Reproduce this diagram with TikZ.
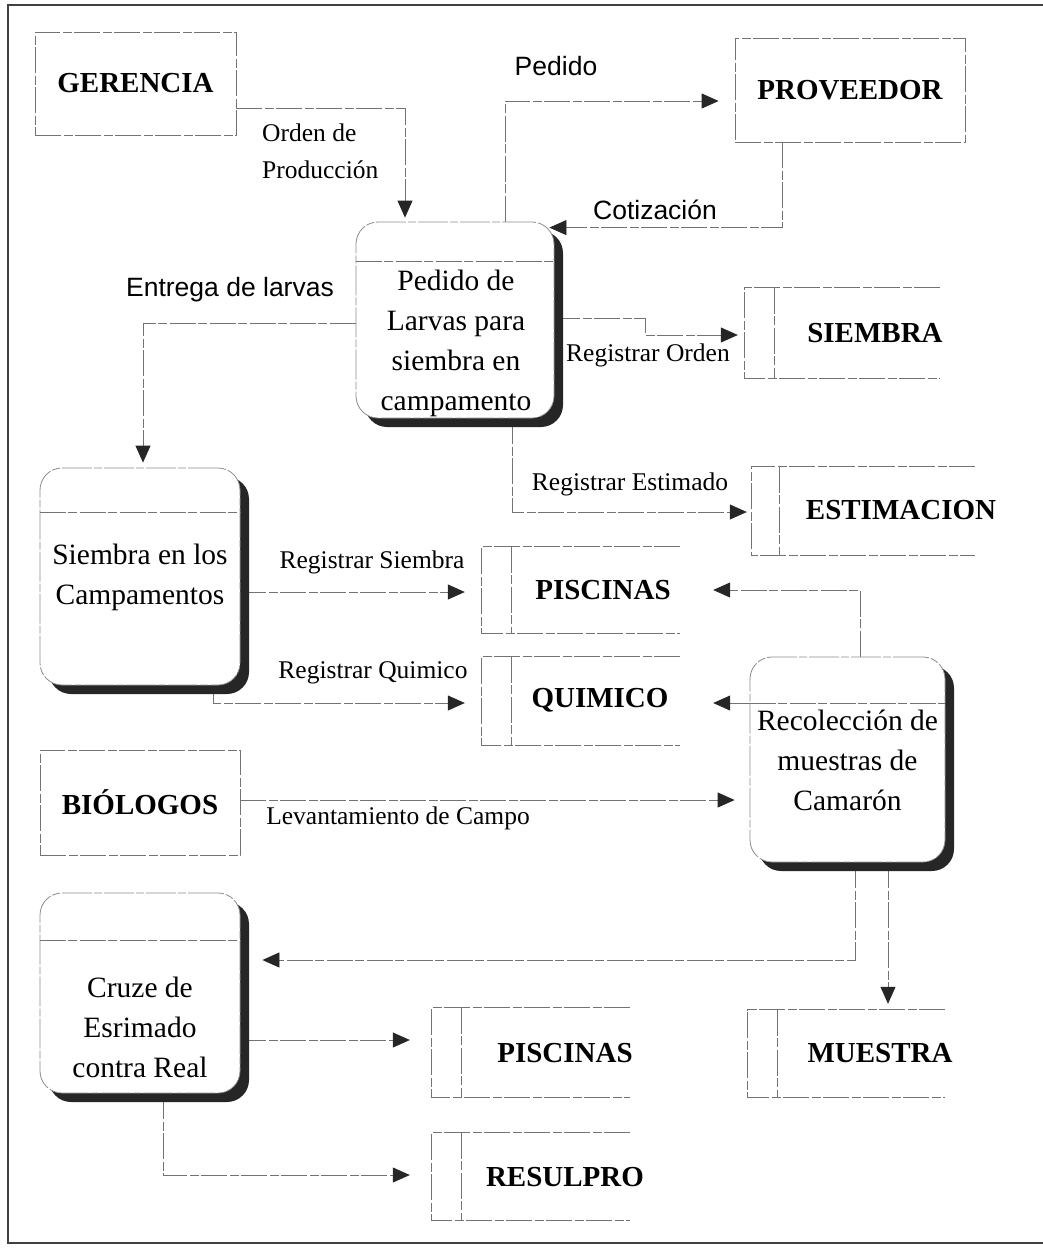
\documentclass[tikz,border=0pt]{standalone}
\usepackage{fontspec}
\setmainfont{Liberation Serif}
\newfontfamily\flowsans{Liberation Sans}
\usetikzlibrary{arrows.meta,calc,shadows}
\pgfdeclarelayer{wires}
\pgfsetlayers{wires,main}

\tikzset{
  edge/.style={draw=black!55, line width=0.8pt,
    dash pattern=on 26pt off 2.5pt on 9pt off 2.5pt},
  flow/.style={edge, -{Triangle[length=17pt,width=15pt,color=black!85]}},
  entity/.style={edge, fill=white, inner sep=0pt,
    font=\fontsize{29}{34}\selectfont\bfseries},
  proc/.style={draw=black!45, line width=0.8pt, rounded corners=22pt,
    fill=white, inner sep=0pt,
    dash pattern=on 30pt off 2pt on 8pt off 2pt,
    drop shadow={shadow xshift=9pt, shadow yshift=-9pt, opacity=1,
      fill=black!85, draw=none}},
  storeframe/.style={inner sep=0pt},
  storetext/.style={inner sep=0pt, font=\fontsize{29}{34}\selectfont\bfseries},
  ptext/.style={inner sep=0pt, align=center, font=\fontsize{29.5}{40}\selectfont},
  slabel/.style={inner sep=0pt, font=\fontsize{25.5}{37}\selectfont},
  sanslabel/.style={inner sep=0pt, font=\flowsans\fontsize{26.5}{32}\selectfont},
}

\newcommand{\openstore}[2]{%
  \draw[edge] (#1.north east) -- (#1.north west) -- (#1.south west) -- (#1.south east);
  \draw[edge] ($(#1.north west)+(#2,0)$) -- ($(#1.south west)+(#2,0)$);}

\begin{document}
\begin{tikzpicture}[x=1pt,y=-1pt]
\useasboundingbox (0,0) rectangle (1043,1248);

% page frame
\draw[line width=1.6pt, black!75] (1043,5) -- (8,5) -- (8,1243) -- (1043,1243);

% external entities
\node[entity, minimum width=201pt, minimum height=103pt] (ger) at (135.5,83.5) {GERENCIA};
\node[entity, minimum width=230pt, minimum height=104pt] (prov) at (850,90) {PROVEEDOR};
\node[entity, minimum width=200pt, minimum height=105pt] (bio) at (140,802.5) {BIÓLOGOS};

% processes
\node[proc, minimum width=198pt, minimum height=196pt] (p1) at (455,320) {};
\draw[edge] (p1.west |- 0,261) -- (p1.east |- 0,261);
\node[ptext] (p1t) at (456,343) {Pedido de\\Larvas para\\siembra en\\campamento};

\node[proc, minimum width=200pt, minimum height=217pt] (p2) at (140,576.5) {};
\draw[edge] (p2.west |- 0,512) -- (p2.east |- 0,512);
\node[ptext] (p2t) at (140,577) {Siembra en los\\Campamentos};

\node[proc, minimum width=195pt, minimum height=205pt] (p3) at (847.5,759.5) {};
\draw[edge] (p3.west |- 0,703) -- (p3.east |- 0,703);
\node[ptext] (p3t) at (847.5,760) {Recolección de\\muestras de\\Camarón};

\node[proc, minimum width=200pt, minimum height=200pt] (p4) at (140,993) {};
\draw[edge] (p4.west |- 0,940) -- (p4.east |- 0,940);
\node[ptext] (p4t) at (140,1027) {Cruze de\\Esrimado\\contra Real};

% data stores
\node[storeframe, minimum width=195pt, minimum height=90pt] (sie) at (842.5,333) {};
\openstore{sie}{30}
\node[storetext] (siet) at (875,333) {SIEMBRA};

\node[storeframe, minimum width=223pt, minimum height=88pt] (est) at (863.5,511) {};
\openstore{est}{28}
\node[storetext] (estt) at (901,510) {ESTIMACION};

\node[storeframe, minimum width=198pt, minimum height=86pt] (pis1) at (581,590) {};
\openstore{pis1}{30}
\node[storetext] (pis1t) at (603,590) {PISCINAS};

\node[storeframe, minimum width=198pt, minimum height=88pt] (qui) at (581,701) {};
\openstore{qui}{30}
\node[storetext] (quit) at (600,700) {QUIMICO};

\node[storeframe, minimum width=197pt, minimum height=87pt] (mue) at (846.5,1053.5) {};
\openstore{mue}{30}
\node[storetext] (muet) at (880,1053) {MUESTRA};

\node[storeframe, minimum width=198pt, minimum height=89pt] (pis2) at (531,1052.5) {};
\openstore{pis2}{30}
\node[storetext] (pis2t) at (565,1053) {PISCINAS};

\node[storeframe, minimum width=198pt, minimum height=87pt] (res) at (531,1176.5) {};
\openstore{res}{30}
\node[storetext] (rest) at (565,1177) {RESULPRO};

% data flows
\begin{pgfonlayer}{wires}
\draw[flow, shorten >=4pt] (ger.east |- 0,108) -| (p1.north -| 405,0);
\draw[flow, shorten >=16pt] (p1.north -| 505,0) |- (prov.west |- 0,101);
\draw[flow] (prov.south -| 782,0) |- ($(p1.north east)+(-5,6)$);
\draw[flow, shorten >=5pt] (p1.west |- 0,323) -| (p2.north -| 143,0);
\draw[flow, shorten >=7pt] (p1.east |- 0,318) -| (645,335) -- (sie.west |- 0,335);
\draw[flow, shorten >=5pt] (p1.south -| 512,0) |- (est.west |- 0,512);
\draw[flow, shorten >=17pt] (p2.east |- 0,592) -- (pis1.west |- 0,592);
\draw[flow, shorten >=17pt] (p2.south -| 213,0) |- (qui.west |- 0,703);
\draw[flow, shorten >=33pt] (p3.north -| 860,0) |- (pis1.east |- 0,590);
\draw[flow, shorten >=33pt] (p3.west |- 0,703) -- (qui.east |- 0,703);
\draw[flow, shorten >=15pt] (bio.east |- 0,800) -- (p3.west |- 0,800);
\draw[flow, shorten >=22pt] (p3.south -| 855,0) |- (p4.east |- 0,960);
\draw[flow, shorten >=6pt] (p3.south -| 888,0) -- (mue.north -| 888,0);
\draw[flow, shorten >=22pt] (p4.east |- 0,1040) -- (pis2.west |- 0,1040);
\draw[flow, shorten >=22pt] (p4.south -| 163,0) |- (res.west |- 0,1175);
\end{pgfonlayer}

% flow labels
\node[sanslabel] (lped) at (556,66) {Pedido};
\node[sanslabel] (lcot) at (655,210) {Cotización};
\node[sanslabel] (lent) at (230,290) {Entrega de larvas};
\node[slabel, align=left, anchor=west] (lord) at (262,151) {Orden de\\Producción};
\node[slabel] (lrord) at (648,355) {Registrar Orden};
\node[slabel] (lrest) at (630,484) {Registrar Estimado};
\node[slabel] (lrsie) at (372,562) {Registrar Siembra};
\node[slabel] (lrqui) at (373,673) {Registrar Quimico};
\node[slabel] (llev) at (398,818) {Levantamiento de Campo};
\end{tikzpicture}
\end{document}
